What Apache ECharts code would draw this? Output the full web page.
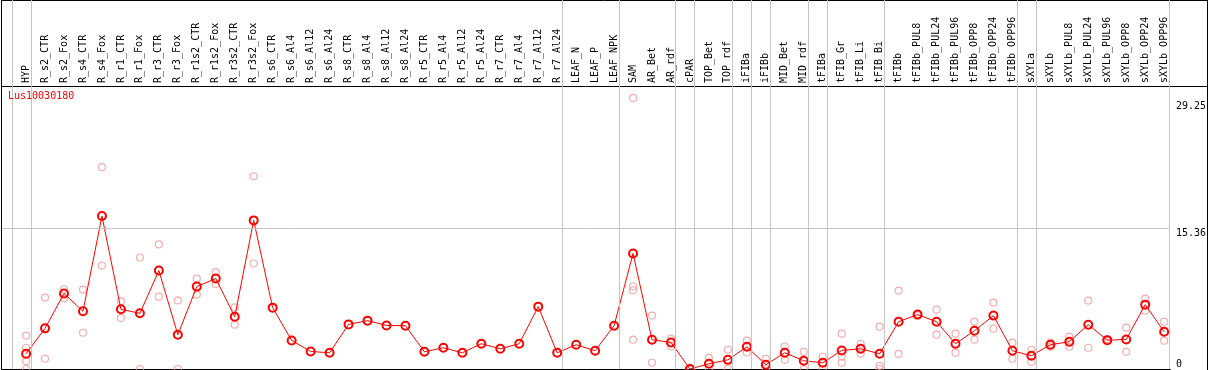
<!DOCTYPE html>
<html>
<head>
<meta charset="utf-8">
<script src="https://cdn.jsdelivr.net/npm/echarts@6/dist/echarts.min.js"></script>
<style>
    html, body { margin: 0; padding: 0; background: #fff; }
    #expr-chart { width: 1209px; height: 370px; }
</style>
</head>
<body>
<div id="expr-chart"></div>
<script>
var geneName = 'Lus10030180';

var categories = ['HYP', 'R_s2_CTR', 'R_s2_Fox', 'R_s4_CTR', 'R_s4_Fox', 'R_r1_CTR', 'R_r1_Fox', 'R_r3_CTR', 'R_r3_Fox',
    'R_r1s2_CTR', 'R_r1s2_Fox', 'R_r3s2_CTR', 'R_r3s2_Fox', 'R_s6_CTR', 'R_s6_Al4', 'R_s6_Al12', 'R_s6_Al24',
    'R_s8_CTR', 'R_s8_Al4', 'R_s8_Al12', 'R_s8_Al24', 'R_r5_CTR', 'R_r5_Al4', 'R_r5_Al12', 'R_r5_Al24',
    'R_r7_CTR', 'R_r7_Al4', 'R_r7_Al12', 'R_r7_Al24', 'LEAF_N', 'LEAF_P', 'LEAF_NPK', 'SAM', 'AR_Bet', 'AR_rdf',
    'cPAR', 'TOP_Bet', 'TOP_rdf', 'iFIBa', 'iFIBb', 'MID_Bet', 'MID_rdf', 'tFIBa', 'tFIB_Gr', 'tFIB_Li', 'tFIB_Bi',
    'tFIBb', 'tFIBb_PUL8', 'tFIBb_PUL24', 'tFIBb_PUL96', 'tFIBb_OPP8', 'tFIBb_OPP24', 'tFIBb_OPP96',
    'sXYLa', 'sXYLb', 'sXYLb_PUL8', 'sXYLb_PUL24', 'sXYLb_PUL96', 'sXYLb_OPP8', 'sXYLb_OPP24', 'sXYLb_OPP96'];

// mean expression per sample
var means = [1.66, 4.44, 8.24, 6.30, 16.70, 6.52, 6.08, 10.75, 3.74,
    9.00, 9.88, 5.71, 16.23, 6.70, 3.12, 1.92, 1.77,
    4.87, 5.28, 4.76, 4.73, 1.88, 2.32, 1.77, 2.76,
    2.21, 2.76, 6.81, 1.77, 2.65, 1.99, 4.73, 12.62, 3.20, 2.90,
    0.00, 0.57, 1.00, 2.43, 0.46, 1.77, 0.90, 0.68, 2.03, 2.21, 1.66,
    5.17, 5.94, 5.17, 2.76, 4.18, 5.83, 1.99,
    1.45, 2.65, 2.98, 4.84, 3.15, 3.23, 7.03, 4.07];

// single replicates (empty where only one value exists)
var replicates = [
    [3.64, 2.32, 0.85, 0], [7.80, 1.12], [8.71, 7.72], [8.67, 3.96], [22.04, 11.30], [7.39, 5.56], [12.18, 0], [13.6, 7.9], [7.49, 0],
    [9.88, 8.13], [10.57, 9.29], [6.74, 4.84], [21.05, 11.52], [], [], [], [],
    [], [], [], [], [], [], [], [],
    [], [], [], [], [], [], [], [29.6, 9.04, 8.6, 3.2], [5.83, 0.68], [3.3, 2.46],
    [0, 0], [1.22, 0], [2.1, 0], [3.09, 1.8], [1.12, 0], [2.46, 1.0], [1.88, 0], [1.34, 0], [3.86, 1.34, 0.68], [2.76, 1.66], [4.62, 0.35, 0],
    [8.57, 1.66], [6.0, 5.85], [6.48, 3.75], [3.86, 1.77], [5.17, 3.2], [7.25, 4.4], [2.87, 1.12],
    [2.1, 0.79], [2.87, 2.43], [3.53, 2.43], [7.47, 2.32], [3.25, 3.05], [4.51, 1.88], [7.69, 6.37], [5.17, 3.09]
];

var yTicks = [0, 15.36, 29.25];

// index of the last sample of each tissue group
var groupEnds = [-1, 0, 28, 31, 34, 35, 37, 38, 39, 41, 42, 45, 52, 53, 60];

(function() {
    "use strict";
    var mono = '"DejaVu Sans Mono", monospace';
    var chart = echarts.init(document.getElementById('expr-chart'));

    var meanData = means.map(function(v, i) { return [i, v]; });
    var repData = [];
    replicates.forEach(function(list, i) {
        list.forEach(function(v) { repData.push([i, v]); });
    });

    var guideLines = groupEnds.map(function(e) { return {xAxis: e + 0.25}; });
    guideLines.push({yAxis: yTicks[1]});

    var option = {
        animation: false,
        backgroundColor: '#fff',
        title: {
            text: geneName,
            left: 8,
            top: 91,
            padding: 0,
            textStyle: {color: '#ff0000', fontSize: 10, fontWeight: 'normal', fontFamily: mono}
        },
        grid: {left: 2, right: 38.3, top: 0, bottom: 1},
        xAxis: {
            type: 'value',
            position: 'top',
            offset: -86,
            min: -1.27,
            max: 60.25,
            axisLine: {show: true, onZero: false, lineStyle: {color: '#000', width: 1}},
            axisTick: {show: false},
            splitLine: {show: false},
            axisLabel: {
                customValues: categories.map(function(c, i) { return i; }),
                formatter: function(v) { return categories[Math.round(v)]; },
                rotate: -90,
                margin: 3,
                fontSize: 10,
                fontFamily: mono,
                color: '#000'
            }
        },
        yAxis: {
            type: 'value',
            position: 'right',
            min: 0,
            max: 40.3,
            axisLine: {show: false},
            axisTick: {show: false},
            splitLine: {show: false},
            axisLabel: {
                customValues: yTicks,
                formatter: function(v) { return String(v); },
                margin: 7,
                verticalAlign: 'top',
                verticalAlignMinLabel: 'bottom',
                fontSize: 10,
                fontFamily: mono,
                color: '#000'
            }
        },
        graphic: [
            {type: 'line', shape: {x1: 1.5, y1: 0.5, x2: 1207.5, y2: 0.5}, style: {stroke: '#000', lineWidth: 1}},
            {type: 'line', shape: {x1: 1.5, y1: 0, x2: 1.5, y2: 370}, style: {stroke: '#000', lineWidth: 1}},
            {type: 'line', shape: {x1: 1207.5, y1: 0, x2: 1207.5, y2: 370}, style: {stroke: '#000', lineWidth: 1}},
            {type: 'line', shape: {x1: 1170, y1: 86.5, x2: 1208, y2: 86.5}, style: {stroke: '#000', lineWidth: 1}},
            {type: 'line', shape: {x1: 1.5, y1: 369.5, x2: 1170.7, y2: 369.5}, style: {stroke: '#000', lineWidth: 1}}
        ],
        series: [
            {
                name: 'replicates',
                type: 'scatter',
                data: repData,
                symbol: 'circle',
                symbolSize: 7,
                z: 2,
                itemStyle: {color: 'rgba(0,0,0,0)', borderColor: '#f09a9a', borderWidth: 1.2},
                markLine: {
                    silent: true,
                    symbol: ['none', 'none'],
                    label: {show: false},
                    lineStyle: {color: '#c4c4c4', type: 'solid', width: 1},
                    data: guideLines
                }
            },
            {
                name: 'mean',
                type: 'line',
                data: meanData,
                symbol: 'circle',
                symbolSize: 8,
                z: 3,
                lineStyle: {color: '#ff0000', width: 1},
                itemStyle: {color: 'rgba(0,0,0,0)', borderColor: '#ff0000', borderWidth: 2}
            }
        ]
    };
    chart.setOption(option);
})();
</script>
</body>
</html>
